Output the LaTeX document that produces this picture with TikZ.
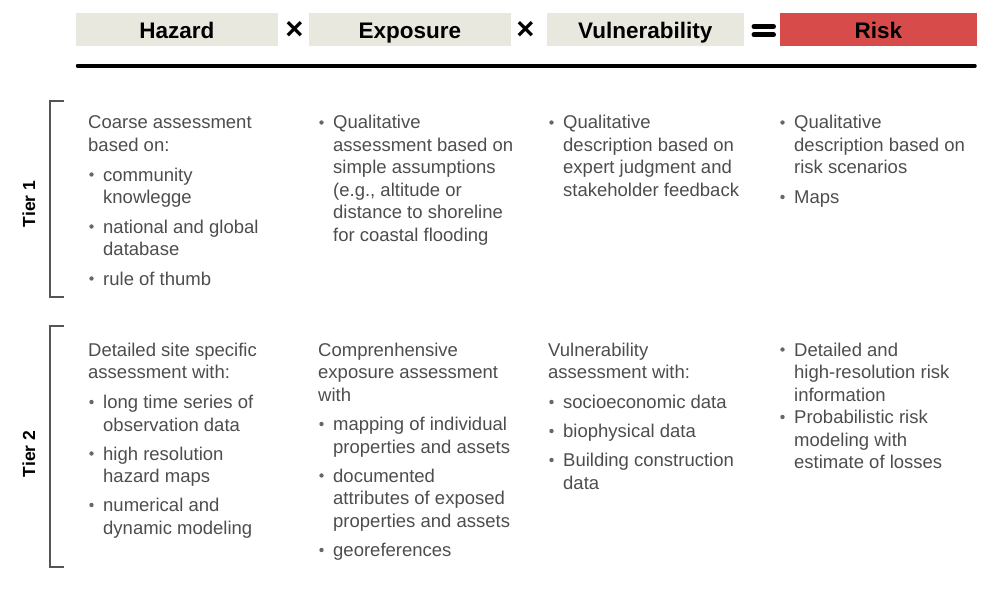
\documentclass[tikz,border=0pt]{standalone}
\usepackage{fontspec}
\setmainfont{Liberation Sans}
\usetikzlibrary{calc}
\definecolor{hdrfill}{HTML}{E9E8DF}
\definecolor{riskred}{HTML}{D84B4B}
\definecolor{bodygray}{HTML}{4D4D4D}
\definecolor{bulgray}{HTML}{666666}
\definecolor{brkgray}{HTML}{555555}
\newcommand\bodyfnt{\fontsize{18.5}{22.5}\selectfont}
\newcommand\hdrfnt{\fontsize{22.5}{26}\selectfont\bfseries}
\newcommand\opfnt{\fontsize{31}{34}\selectfont\bfseries}
\newcommand\tierfnt{\fontsize{17.5}{20}\selectfont\bfseries}
\newcommand\lines[1]{\begin{tabular}[t]{@{}l@{}}#1\end{tabular}}
\newcommand\bulletat[1]{\fill[bulgray] ([shift={(-11.5pt,6.5pt)}]#1.base west) circle[radius=2.2pt];}
\tikzset{
  hdrbox/.style={fill=hdrfill, inner sep=0pt, minimum height=32.4pt, font=\hdrfnt, text=black, text height=18.5pt, text depth=0pt},
  opsym/.style={inner sep=0pt, font=\opfnt, text=black},
  bodytxt/.style={anchor=base west, inner sep=0pt, font=\bodyfnt, text=bodygray},
  tierlbl/.style={rotate=90, anchor=base, inner sep=0pt, font=\tierfnt, text=black},
  brk/.style={draw=brkgray, line width=1.5pt},
  eqbar/.style={line width=5pt, line cap=round, black},
}
\begin{document}
\begin{tikzpicture}[x=1pt,y=-1pt]
\useasboundingbox (0,0) rectangle (996,599);
% header
\node[hdrbox, minimum width=201.7pt] (hz) at (176.85,29.5) {Hazard};
\node[opsym] (x1) at (294.5,30.5) {×};
\node[hdrbox, minimum width=201.7pt] (ex) at (409.85,29.5) {Exposure};
\node[opsym] (x2) at (525.5,30.5) {×};
\node[hdrbox, minimum width=197pt] (vu) at (645.2,29.5) {Vulnerability};
\coordinate (eqa) at (754,26.5); \coordinate (eqb) at (773.5,26.5);
\coordinate (eqc) at (754,34.7); \coordinate (eqd) at (773.5,34.7);
\draw[eqbar] (eqa) -- (eqb);
\draw[eqbar] (eqc) -- (eqd);
\node[hdrbox, fill=riskred, minimum width=196.7pt] (rk) at (878.35,29.5) {Risk};
\coordinate (rulea) at (77.5,65.8); \coordinate (ruleb) at (975,65.8);
\draw[line width=3.5pt, line cap=round, black] (rulea) -- (ruleb);
% tier labels and brackets
\node[tierlbl] (t1) at (35,204) {Tier 1};
\draw[brk] (64,101) -- (50,101) -- (50,297) -- (64,297);
\node[tierlbl] (t2) at (35,454) {Tier 2};
\draw[brk] (64,326) -- (50,326) -- (50,567) -- (64,567);
% Tier 1
\node[bodytxt] (p11) at (88,129) {\lines{Coarse assessment\\based on:}};
\node[bodytxt] (a11) at (103,181) {\lines{community\\knowlegge}};
\node[bodytxt] (b11) at (103,233) {\lines{national and global\\database}};
\node[bodytxt] (c11) at (103,285) {\lines{rule of thumb}};
\bulletat{a11}\bulletat{b11}\bulletat{c11}
\node[bodytxt] (p12) at (333,129) {\lines{Qualitative\\assessment based on\\simple assumptions\\(e.g., altitude or\\distance to shoreline\\for coastal flooding}};
\bulletat{p12}
\node[bodytxt] (p13) at (563,129) {\lines{Qualitative\\description based on\\expert judgment and\\stakeholder feedback}};
\bulletat{p13}
\node[bodytxt] (a14) at (794,129) {\lines{Qualitative\\description based on\\risk scenarios}};
\node[bodytxt] (b14) at (794,203.5) {\lines{Maps}};
\bulletat{a14}\bulletat{b14}
% Tier 2
\node[bodytxt] (p21) at (88,356) {\lines{Detailed site specific\\assessment with:}};
\node[bodytxt] (a21) at (103,408.5) {\lines{long time series of\\observation data}};
\node[bodytxt] (b21) at (103,460) {\lines{high resolution\\hazard maps}};
\node[bodytxt] (c21) at (103,511.5) {\lines{numerical and\\dynamic modeling}};
\bulletat{a21}\bulletat{b21}\bulletat{c21}
\node[bodytxt] (p22) at (318,356) {\lines{Comprenhensive\\exposure assessment\\with}};
\node[bodytxt] (a22) at (333,430.5) {\lines{mapping of individual\\properties and assets}};
\node[bodytxt] (b22) at (333,482) {\lines{documented\\attributes of exposed\\properties and assets}};
\node[bodytxt] (c22) at (333,556.5) {\lines{georeferences}};
\bulletat{a22}\bulletat{b22}\bulletat{c22}
\node[bodytxt] (p23) at (548,356) {\lines{Vulnerability\\assessment with:}};
\node[bodytxt] (a23) at (563,408.5) {\lines{socioeconomic data}};
\node[bodytxt] (b23) at (563,437.5) {\lines{biophysical data}};
\node[bodytxt] (c23) at (563,466.5) {\lines{Building construction\\data}};
\bulletat{a23}\bulletat{b23}\bulletat{c23}
\node[bodytxt] (a24) at (794,356) {\lines{Detailed and\\high-resolution risk\\information}};
\node[bodytxt] (b24) at (794,423.5) {\lines{Probabilistic risk\\modeling with\\estimate of losses}};
\bulletat{a24}\bulletat{b24}
\end{tikzpicture}
\end{document}
